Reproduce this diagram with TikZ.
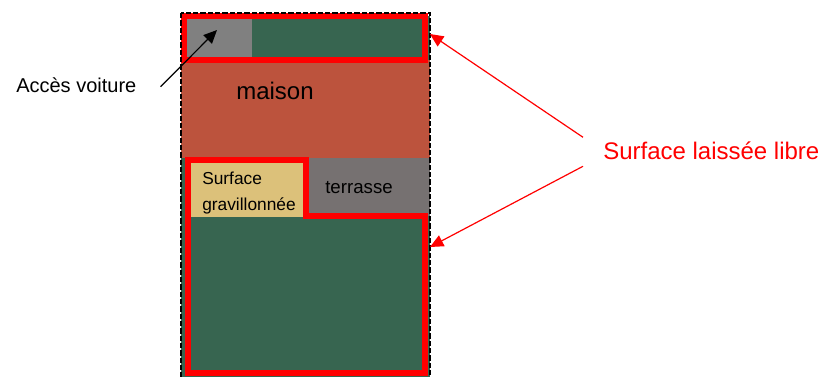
\documentclass[tikz,border=0pt]{standalone}
\usepackage{fontspec}
\setmainfont{Liberation Sans}
\usetikzlibrary{arrows.meta}
\definecolor{gazon}{RGB}{55,101,80}
\definecolor{brique}{RGB}{188,83,61}
\definecolor{acces}{RGB}{128,128,128}
\definecolor{dalle}{RGB}{118,113,113}
\definecolor{gravier}{RGB}{220,193,122}
\definecolor{rouge}{RGB}{255,0,0}
\begin{document}
\begin{tikzpicture}[x=0.75pt,y=-0.75pt,
    zone/.style={draw=rouge,line width=5pt},
    fleche/.style={-{Triangle[length=10pt,width=9pt]},line width=0.9pt}]
    \useasboundingbox (0,0) rectangle (821,376);
    \fill[brique] (181,60) rectangle (430,158);
    \fill[gazon] (181,158) rectangle (430,380);
    \fill[acces] (184,16) rectangle (252,60);
    \fill[gazon] (252,16) rectangle (430,60);
    \fill[gravier] (188,160) rectangle (307,217);
    \fill[dalle] (307,158) rectangle (430,216);
    \draw[zone] (184,16) rectangle (425,60);
    \draw[zone] (188,160) -- (306,160) -- (306,216) -- (425,216)
        -- (425,373) -- (188,373) -- cycle;
    \draw[line width=2pt,dash pattern=on 4pt off 1.5pt]
        (181,13) rectangle (430,385);
    \node[font=\fontsize{18}{22}\selectfont,anchor=base] (maison)
        at (275,99) {maison};
    \node[font=\fontsize{14}{17}\selectfont,anchor=base] (terrasse)
        at (359,193) {terrasse};
    \node[font=\fontsize{13}{19}\selectfont,align=left,anchor=west,
        inner sep=0] (gravillon) at (202,193) {Surface\\gravillonnée};
    \node[font=\fontsize{15}{18}\selectfont,anchor=base west,inner sep=0]
        (voiture) at (16,92) {Accès voiture};
    \node[font=\fontsize{18}{22}\selectfont,anchor=base west,inner sep=0,
        text=rouge] (libre) at (603,159) {Surface laissée libre};
    \coordinate (entree) at (217,30);
    \coordinate (haut) at (430,34);
    \coordinate (bas) at (430,247);
    \draw[fleche] ([shift={(24,2)}]voiture.east) -- (entree);
    \draw[fleche,rouge] ([shift={(-20,-13)}]libre.west) -- (haut);
    \draw[fleche,rouge] ([shift={(-20,16)}]libre.west) -- (bas);
\end{tikzpicture}
\end{document}
